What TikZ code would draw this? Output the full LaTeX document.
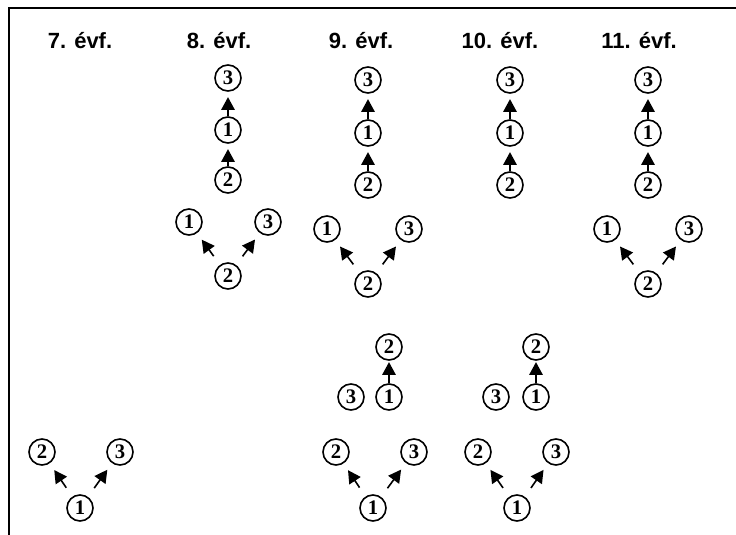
\documentclass[tikz,border=0pt]{standalone}
\usepackage{fontspec}
\setmainfont{Liberation Serif}
\newfontfamily\headfont{Liberation Sans}
\usetikzlibrary{arrows.meta}
\begin{document}
\begin{tikzpicture}[x=0.75pt,y=-0.75pt,
    num/.style={circle,draw,line width=1.2pt,inner sep=0pt,minimum size=19.5pt,
      font=\bfseries\fontsize{15.5}{15.5}\selectfont},
    head/.style={font=\headfont\bfseries\fontsize{16.5}{17}\selectfont,inner sep=0pt},
    arr/.style={-{Triangle[length=9.5pt,width=10pt]},line width=1.2pt},
    varr/.style={arr,shorten <=8pt,shorten >=6pt}]
    \useasboundingbox (0,0) rectangle (736,535);
    % frame
    \draw[line width=1.6pt] (9,535)--(9,8)--(736,8);
    % headings
    \node[head] (h7) at (80,41) {7. évf.};
    \node[head] (h8) at (219,41) {8. évf.};
    \node[head] (h9) at (361,41) {9. évf.};
    \node[head] (h10) at (500,41) {10. évf.};
    \node[head] (h11) at (639,41) {11. évf.};
    % 7. evf.
    \node[num] (g7v2) at (42,452) {2};
    \node[num] (g7v3) at (120,452) {3};
    \node[num] (g7v1) at (80,508) {1};
    \draw[varr] (g7v1)--(g7v2);
    \draw[varr] (g7v1)--(g7v3);
    % 8. evf.
    \node[num] (g8c3) at (228,78) {3};
    \node[num] (g8c1) at (228,130) {1};
    \node[num] (g8c2) at (228,180) {2};
    \draw[arr,shorten >=4pt] (g8c2)--(g8c1);
    \draw[arr,shorten >=4pt] (g8c1)--(g8c3);
    \node[num] (g8v1) at (189,222) {1};
    \node[num] (g8v3) at (268,222) {3};
    \node[num] (g8v2) at (228,276) {2};
    \draw[varr] (g8v2)--(g8v1);
    \draw[varr] (g8v2)--(g8v3);
    % 9. evf.
    \node[num] (g9c3) at (368,80) {3};
    \node[num] (g9c1) at (368,133) {1};
    \node[num] (g9c2) at (368,185) {2};
    \draw[arr,shorten >=4pt] (g9c2)--(g9c1);
    \draw[arr,shorten >=4pt] (g9c1)--(g9c3);
    \node[num] (g9v1) at (327,229) {1};
    \node[num] (g9v3) at (409,229) {3};
    \node[num] (g9v2) at (368,284) {2};
    \draw[varr] (g9v2)--(g9v1);
    \draw[varr] (g9v2)--(g9v3);
    \node[num] (g9p2) at (389,347) {2};
    \node[num] (g9p3) at (351,397) {3};
    \node[num] (g9p1) at (389,397) {1};
    \draw[arr,shorten >=1pt] (g9p1)--(g9p2);
    \node[num] (g9w2) at (336,452) {2};
    \node[num] (g9w3) at (414,452) {3};
    \node[num] (g9w1) at (373,508) {1};
    \draw[varr] (g9w1)--(g9w2);
    \draw[varr] (g9w1)--(g9w3);
    % 10. evf.
    \node[num] (g10c3) at (510,80) {3};
    \node[num] (g10c1) at (510,133) {1};
    \node[num] (g10c2) at (510,185) {2};
    \draw[arr,shorten >=4pt] (g10c2)--(g10c1);
    \draw[arr,shorten >=4pt] (g10c1)--(g10c3);
    \node[num] (g10p2) at (536,347) {2};
    \node[num] (g10p3) at (496,397) {3};
    \node[num] (g10p1) at (536,397) {1};
    \draw[arr,shorten >=1pt] (g10p1)--(g10p2);
    \node[num] (g10w2) at (478,452) {2};
    \node[num] (g10w3) at (556,452) {3};
    \node[num] (g10w1) at (517,508) {1};
    \draw[varr] (g10w1)--(g10w2);
    \draw[varr] (g10w1)--(g10w3);
    % 11. evf.
    \node[num] (g11c3) at (648,80) {3};
    \node[num] (g11c1) at (648,133) {1};
    \node[num] (g11c2) at (648,185) {2};
    \draw[arr,shorten >=4pt] (g11c2)--(g11c1);
    \draw[arr,shorten >=4pt] (g11c1)--(g11c3);
    \node[num] (g11v1) at (607,229) {1};
    \node[num] (g11v3) at (689,229) {3};
    \node[num] (g11v2) at (648,284) {2};
    \draw[varr] (g11v2)--(g11v1);
    \draw[varr] (g11v2)--(g11v3);
\end{tikzpicture}
\end{document}
